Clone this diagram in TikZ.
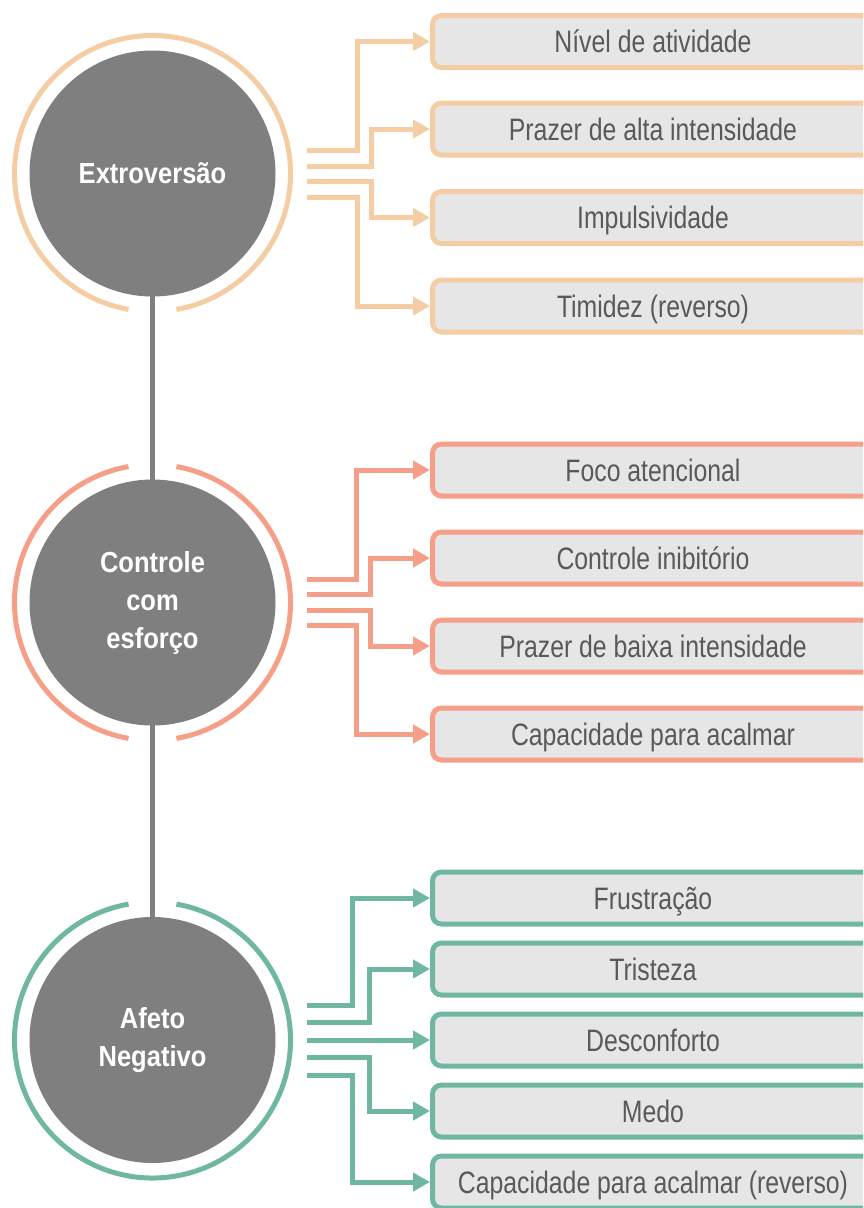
\documentclass[tikz,border=0pt]{standalone}
\usepackage{fontspec}
\setmainfont{Liberation Sans}
\newfontfamily\boxfont{Liberation Sans}[FakeStretch=0.8]
\newfontfamily\circfont{Liberation Sans}[FakeStretch=0.88]
\usetikzlibrary{arrows.meta, positioning, backgrounds}
\definecolor{tmpeach}{HTML}{F4CDA5}
\definecolor{tmsalmon}{HTML}{F69F88}
\definecolor{tmteal}{HTML}{70B7A3}
\definecolor{tmgray}{HTML}{7F7F7F}
\definecolor{tmfill}{HTML}{E6E6E6}
\definecolor{tmtext}{HTML}{595959}

\begin{document}
\begin{tikzpicture}[
  x=1pt, y=1pt,
  dimbox/.style={rectangle, rounded corners=9pt, minimum width=441pt, minimum height=52pt, line width=5pt, fill=tmfill, text=tmtext, inner sep=0pt, text height=22pt, text depth=0pt, font=\boxfont\fontsize{31}{37}\selectfont},
  dimcirc/.style={circle, fill=tmgray, minimum size=246pt, inner sep=0pt, align=center, text=white, font=\circfont\bfseries\fontsize{29}{38}\selectfont},
  ring/.style={line width=5pt},
  link/.style={line width=5pt, -{Triangle[length=17pt, width=18pt]}},
]
\clip (0,0) rectangle (863,-1208);

\node[dimcirc] (ext) at (152.5, -173.5) {Extroversão};
\node[dimcirc] (con) at (152.5, -602.5) {Controle\\com\\esforço};
\node[dimcirc] (afe) at (152.5, -1040) {Afeto\\Negativo};

\begin{scope}[on background layer]
\draw[line width=5.5pt, tmgray] (ext.center) -- (afe.center);
\end{scope}

\draw[ring, tmpeach] ([shift={(-80:138)}]ext.center) arc (-80:260:138);
\draw[ring, tmsalmon] ([shift={(-80:138)}]con.center) arc (-80:80:138);
\draw[ring, tmsalmon] ([shift={(100:138)}]con.center) arc (100:260:138);
\draw[ring, tmteal] ([shift={(100:138)}]afe.center) arc (100:440:138);

\node[dimbox, draw=tmpeach] (niv) at (653, -41.5) {Nível de atividade};
\node[dimbox, draw=tmpeach] (pra) at (653, -129) {Prazer de alta intensidade};
\node[dimbox, draw=tmpeach] (imp) at (653, -217.5) {Impulsividade};
\node[dimbox, draw=tmpeach] (tim) at (653, -306) {Timidez (reverso)};

\node[dimbox, draw=tmsalmon] (foc) at (653, -470) {Foco atencional};
\node[dimbox, draw=tmsalmon] (ini) at (653, -558) {Controle inibitório};
\node[dimbox, draw=tmsalmon] (pbi) at (653, -646) {Prazer de baixa intensidade};
\node[dimbox, draw=tmsalmon] (cap) at (653, -734) {Capacidade para acalmar};

\node[dimbox, draw=tmteal] (fru) at (653, -898) {Frustração};
\node[dimbox, draw=tmteal] (tri) at (653, -969) {Tristeza};
\node[dimbox, draw=tmteal] (des) at (653, -1040) {Desconforto};
\node[dimbox, draw=tmteal] (med) at (653, -1111) {Medo};
\node[dimbox, draw=tmteal] (car) at (653, -1182) {Capacidade para acalmar (reverso)};

\coordinate (e1) at (307, -150);
\coordinate (e2) at (307, -166);
\coordinate (e3) at (307, -181.5);
\coordinate (e4) at (307, -197);
\coordinate (c1) at (307, -579);
\coordinate (c2) at (307, -594.5);
\coordinate (c3) at (307, -610);
\coordinate (c4) at (307, -625.5);
\coordinate (a1) at (307, -1005);
\coordinate (a2) at (307, -1022.5);
\coordinate (a3) at (307, -1040);
\coordinate (a4) at (307, -1057.5);
\coordinate (a5) at (307, -1075);

\draw[link, tmpeach] (e1) -- ++(50,0) |- (niv.west);
\draw[link, tmpeach] (e2) -- ++(64,0) |- (pra.west);
\draw[link, tmpeach] (e3) -- ++(64,0) |- (imp.west);
\draw[link, tmpeach] (e4) -- ++(50,0) |- (tim.west);

\draw[link, tmsalmon] (c1) -- ++(49,0) |- (foc.west);
\draw[link, tmsalmon] (c2) -- ++(63,0) |- (ini.west);
\draw[link, tmsalmon] (c3) -- ++(63,0) |- (pbi.west);
\draw[link, tmsalmon] (c4) -- ++(49,0) |- (cap.west);

\draw[link, tmteal] (a1) -- ++(45,0) |- (fru.west);
\draw[link, tmteal] (a2) -- ++(62,0) |- (tri.west);
\draw[link, tmteal] (a3) -- (des.west);
\draw[link, tmteal] (a4) -- ++(62,0) |- (med.west);
\draw[link, tmteal] (a5) -- ++(45,0) |- (car.west);
\end{tikzpicture}
\end{document}
